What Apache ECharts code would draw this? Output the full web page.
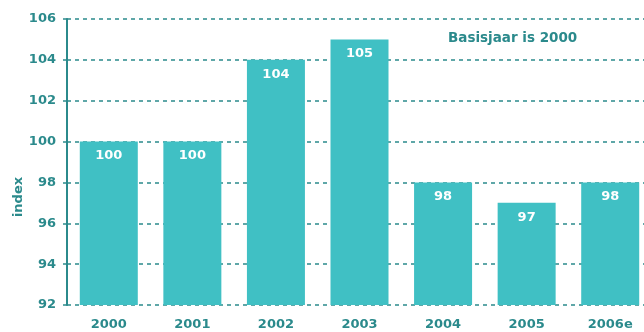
<!DOCTYPE html>
<html><head><meta charset="utf-8">
<script src="https://cdn.jsdelivr.net/npm/echarts@6/dist/echarts.min.js"></script>
<style>html,body{margin:0;padding:0;background:#fff}#c{width:644px;height:332px}</style>
</head><body><div id="c"></div>
<script>
var categories = ['2000','2001','2002','2003','2004','2005','2006e'];
var values = [100,100,104,105,98,97,98];
var yMin = 92, yMax = 106, yStep = 2;
var axisName = 'index';
var note = 'Basisjaar is 2000';

var teal = '#2b8a8c';
var barColor = '#40c0c4';
var font = 'DejaVu Sans';
var chart = echarts.init(document.getElementById('c'));
chart.setOption({
  animation: false,
  grid: {left: 67, top: 19, width: 585, height: 286, containLabel: false, outerBoundsMode: 'none'},
  xAxis: {
    type: 'category', data: categories,
    axisLine: {show: false}, axisTick: {show: false},
    axisLabel: {color: teal, fontFamily: font, fontWeight: 'bold', fontSize: 13, margin: 13}
  },
  yAxis: {
    type: 'value', min: yMin, max: yMax, interval: yStep,
    axisLine: {show: true, lineStyle: {color: teal, width: 2}},
    axisTick: {show: true, length: 4, lineStyle: {color: teal, width: 1.5}},
    axisLabel: {color: teal, fontFamily: font, fontWeight: 'bold', fontSize: 13, margin: 11},
    splitLine: {show: true, lineStyle: {color: teal, width: 1.5, type: [4, 4]}}
  },
  graphic: [
    {type: 'text', left: 448, top: 31, style: {text: note, fill: teal, font: 'bold 13.5px "DejaVu Sans"'}},
    {type: 'text', x: 19, y: 197, rotation: Math.PI/2, style: {text: axisName, fill: teal, font: 'bold 13px "DejaVu Sans"', align: 'center', verticalAlign: 'middle'}}
  ],
  series: [{
    type: 'bar', data: values, barWidth: 58,
    itemStyle: {color: barColor},
    label: {show: true, position: 'insideTop', distance: 8, color: '#fff', fontFamily: font, fontWeight: 'bold', fontSize: 13}
  }]
});
</script></body></html>
